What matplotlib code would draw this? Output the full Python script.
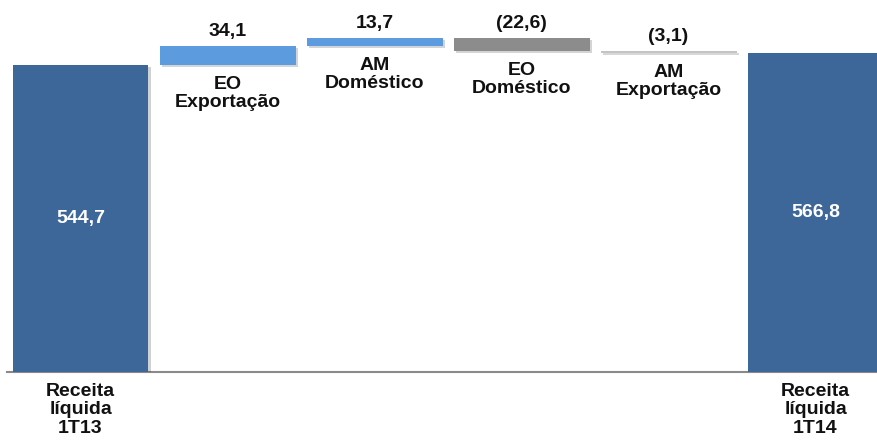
import numpy as np
import matplotlib
matplotlib.use('Agg')
import matplotlib.pyplot as plt
import matplotlib.patheffects as pe

# receita liquida bridge 1T13 -> 1T14
labels = ['Receita\nlíquida\n1T13', 'EO\nExportação', 'AM\nDoméstico',
          'EO\nDoméstico', 'AM\nExportação', 'Receita\nlíquida\n1T14']
start_total = 544.7
deltas = [34.1, 13.7, -22.6, -3.1]
end_total = 566.8
colors = ['#3D6798', '#5C9BDD', '#5C9BDD', '#8C8C8C', '#C4C4C4', '#3D6798']


def fmt(v):
    s = ('%.1f' % abs(v)).replace('.', ',')
    return '(%s)' % s if v < 0 else s


plt.rcParams['font.family'] = ['Liberation Sans', 'DejaVu Sans']
fig = plt.figure(figsize=(8.77, 4.41), dpi=100)
ax = fig.add_axes([7 / 877, 69 / 441, 870 / 877, 372 / 441])

x = np.arange(len(labels))
width = 0.925
shadow = [pe.SimplePatchShadow(offset=(1.5, -1.5), alpha=0.2), pe.Normal()]
txt_kw = dict(ha='center', fontsize=14, fontweight='bold', color='#111111',
              linespacing=1.1)

# totals
for i, val in [(0, start_total), (5, end_total)]:
    b = ax.bar(x[i], val, width, color=colors[i], zorder=2)
    b[0].set_path_effects(shadow)
    ax.text(x[i], val / 2, fmt(val), va='center', ha='center', fontsize=14,
            fontweight='bold', color='white', zorder=3)
    ax.annotate(labels[i], (x[i], 0), xytext=(0, -8), textcoords='offset points',
                va='top', annotation_clip=False, **txt_kw)

# changes
level = start_total
for k, d in enumerate(deltas):
    i = k + 1
    bottom = level if d > 0 else level + d
    b = ax.bar(x[i], abs(d), width, bottom=bottom, color=colors[i], zorder=2)
    b[0].set_path_effects(shadow)
    ax.annotate(fmt(d), (x[i], bottom + abs(d)), xytext=(0, 4),
                textcoords='offset points', va='bottom', **txt_kw)
    ax.annotate(labels[i], (x[i], bottom), xytext=(0, -8),
                textcoords='offset points', va='top', **txt_kw)
    level += d

ax.axhline(0, color='#8A8A8A', lw=1.5, clip_on=False, zorder=1)
ax.set_xlim(-0.5, 5.418)
ax.set_ylim(0, 660)
ax.axis('off')

fig.savefig('out.png', dpi=100)
